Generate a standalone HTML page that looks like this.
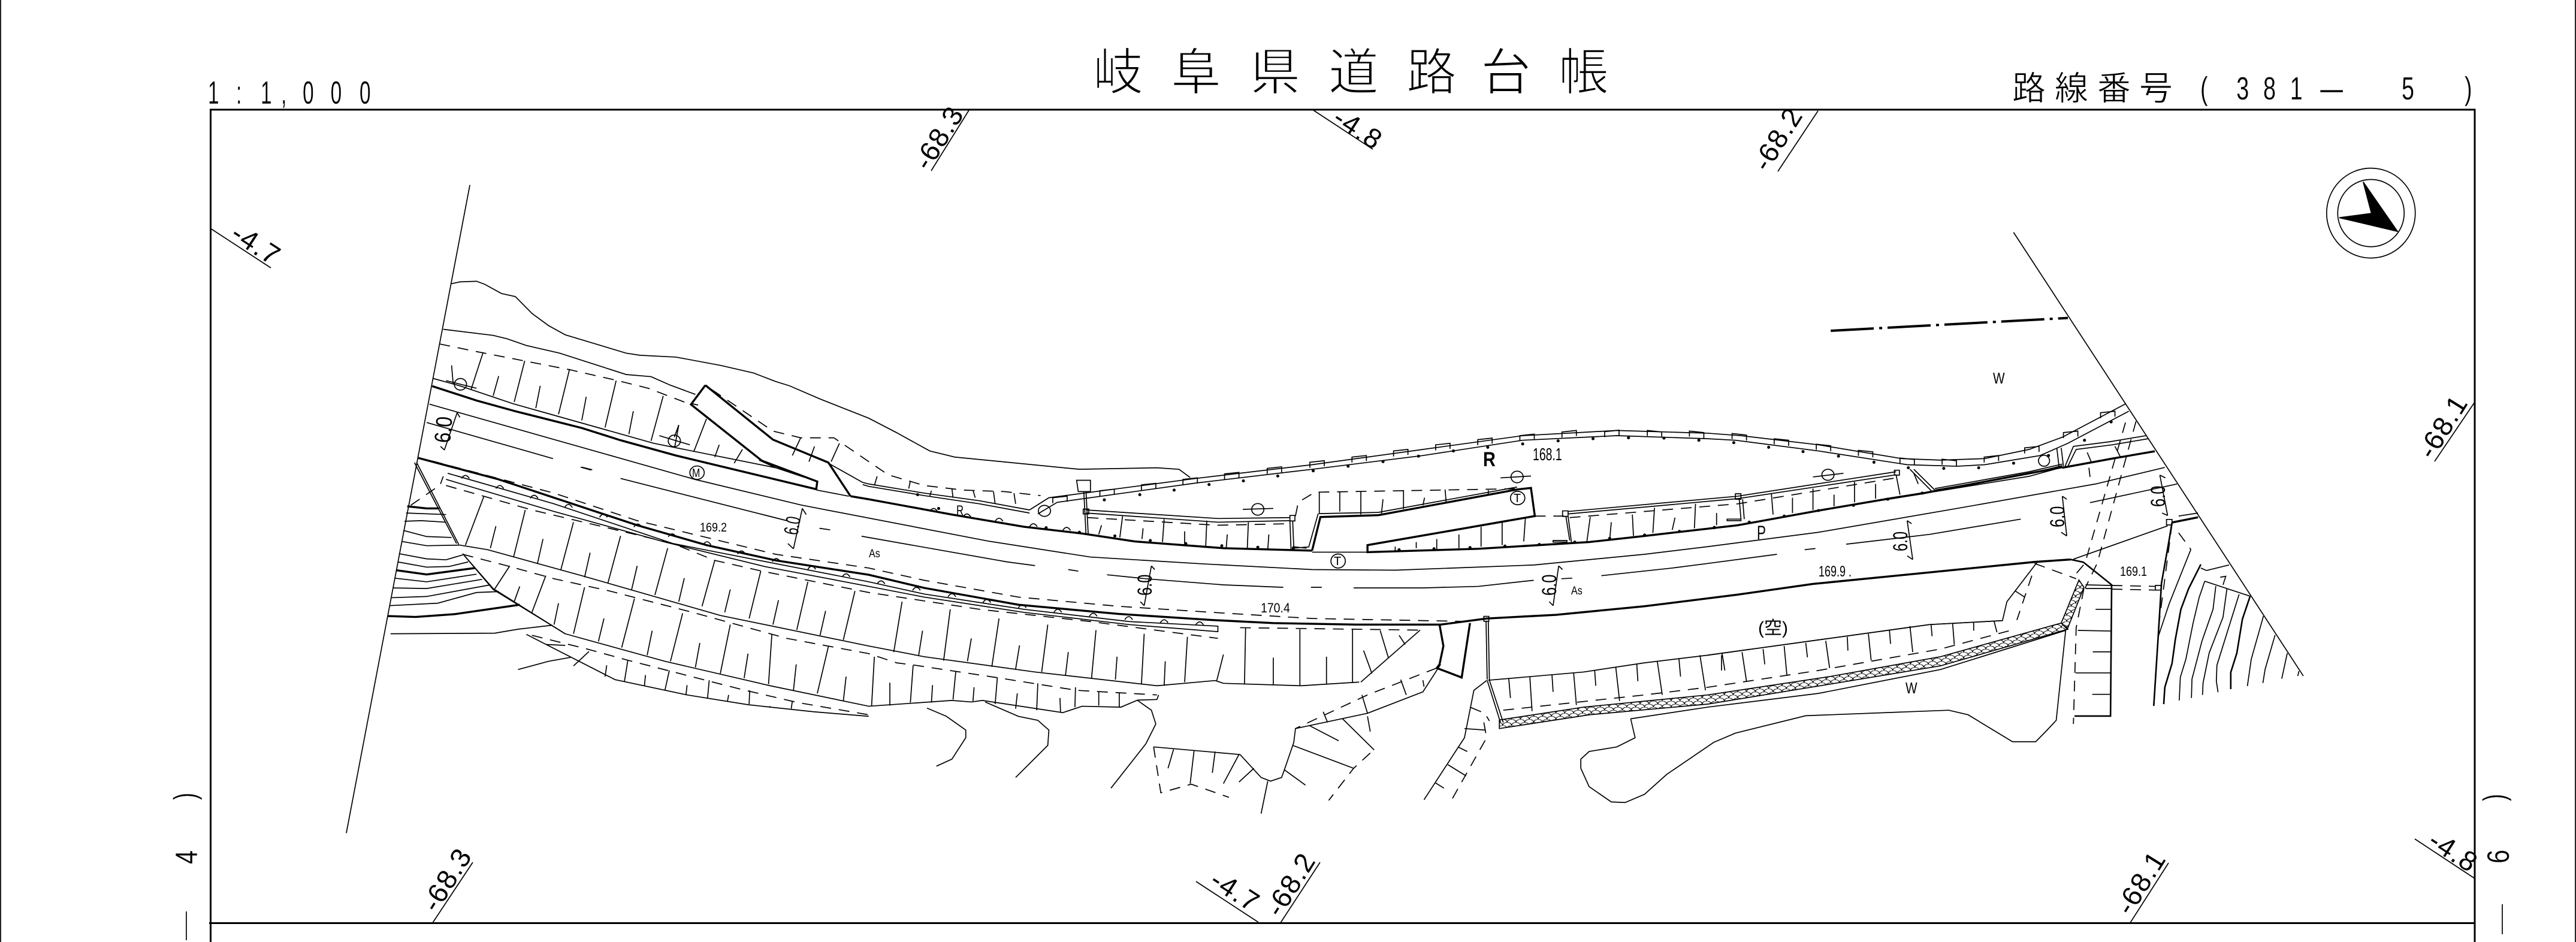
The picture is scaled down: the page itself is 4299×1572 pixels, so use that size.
<!DOCTYPE html>
<html lang="ja"><head><meta charset="utf-8"><title>岐阜県道路台帳</title>
<style>
html,body{margin:0;padding:0;background:#fff}
svg{position:absolute;left:0;top:0;display:block}
g path,g ellipse{fill:none;stroke:#000;stroke-width:1.7;vector-effect:non-scaling-stroke}
g path.k{stroke-width:3.4}
g path.m{stroke-width:2.6}
g path.d{stroke-dasharray:18 13}
g path.o{stroke:#000;stroke-width:5;stroke-linecap:round}
g path.f{fill:#000}
g path.s{fill:url(#sc);stroke-width:1.7}
g path.c{stroke-width:4;stroke-dasharray:72 9 5 9}
text{font-family:"Liberation Sans","Noto Sans CJK JP",sans-serif;fill:#000}
.big{stroke:#fff;stroke-width:2.2}
.mid{stroke:#fff;stroke-width:.8}
.thin{stroke:#fff;stroke-width:.3}
.st{font-size:46px;letter-spacing:2px;text-anchor:middle}
.sm{font-size:25px}
</style></head><body>
<svg xmlns="http://www.w3.org/2000/svg" width="4299" height="1572" viewBox="0 0 4299 1572">
<defs><pattern id="sc" patternUnits="userSpaceOnUse" width="16" height="20">
<path d="M0 10a8 10 0 0 1 16 0M-8 20a8 10 0 0 1 16 0M8 20a8 10 0 0 1 16 0" fill="none" stroke="#000" stroke-width="1.6"/></pattern></defs>

<g>
<path d="M351.5,1572V183H4130V1572M349,1540.5H4130" style="stroke-width:3"/>
<path d="M1,0V1572M4298,0V1572"/>
<path d="M351,381L452,447M1617,184L1554,285M2192,184L2291,249M3034,185L2967,286M4130,671L4063,770M789,1439L722,1540M1996,1471L2100,1539M2203,1439L2137,1540M3619,1440L3555,1540M4030,1400L4130,1466"/>
<path d="M311,1521V1569M4176,1509V1559"/>
</g>

<g transform="scale(.9247,.5102)">
<!-- PANEL A -->
<g>
<path d="M848,605L625,2725"/>
<path d="M815,928 830,922 860,920 875,930 905,960 930,970 960,1025 990,1065 1020,1095 1130,1155 1155,1162 1220,1168 1300,1195 1360,1220 1400,1248 1425,1262 1480,1305 1568,1368 1618,1415 1678,1475 1723,1495 1948,1535 2088,1530 2128,1535 2148,1562"/>
<path d="M800,1077 890,1097 915,1108 950,1130 1010,1155 1130,1225 1175,1232 1210,1260 1255,1290"/>
<path class="d" d="M793,1125 860,1150 1030,1210 1115,1245 1170,1270 1235,1315 1260,1325"/>
<path class="d" d="M1285,1275 1395,1410 1445,1432 1505,1432 1568,1510 1603,1553 1668,1588 1738,1603 1813,1608 1878,1621"/>
<path d="M872,1152 850,1275M947,1180 928,1315M1028,1207 1008,1355M1112,1245 1092,1398M1197,1295 1175,1442M1275,1370 1252,1478M900,1230 890,1295M975,1262 967,1335M1058,1298 1050,1375M1143,1345 1135,1420M1225,1390 1217,1430M1298,1455 1290,1495M1340,1470 1325,1515M1370,1505 1400,1530M1445,1432 1430,1490M1470,1460 1460,1510M1515,1450 1500,1510"/>
<path d="M782,1238 830,1262 925,1320 1180,1450 1400,1530 1450,1560M1495,1515 1557,1578"/>
<path class="k" d="M780,1263 860,1310 930,1345 1050,1400 1120,1440 1220,1490 1475,1601"/>
<path class="k" d="M1273,1260 1247,1323 1375,1507 1475,1575 1473,1601M1273,1260 1395,1438 1495,1513 1535,1623"/>
<path d="M775,1322 1254,1568 1446,1652 1784,1770M770,1382 998,1500"/>
<path class="d" d="M1048,1528 1072,1540"/>
<ellipse cx="831" cy="1257" rx="11" ry="19"/><path d="M805,1245 860,1270M815,1195 818,1257"/>
<ellipse cx="1217" cy="1442" rx="11" ry="19"/><path d="M1190,1425 1245,1455M1225,1390 1218,1460"/>
<path d="M825,1350 802,1472M825,1350 830,1365M802,1472 795,1460"/>
</g>

<!-- PANEL B -->
<g transform="translate(1568,0)">
<defs><path id="r" d="M-13,8V-10L13,-15V3"/><path id="r2" d="M-13,3V-15L13,-10V8"/></defs>
<path d="M590,1565 800,1520 1000,1470 1180,1425 1350,1408 1514,1417 1574,1425 1714,1455 1864,1500 1934,1505 2014,1500 2094,1470 2154,1430 2269,1320"/>
<path d="M590,1580 800,1535 1000,1490 1180,1440 1350,1425 1514,1435 1564,1440 1714,1475 1874,1520 1964,1525 2014,1520 2114,1490 2164,1450 2274,1345"/>
<use href="#r" x="655" y="1560"/><use href="#r" x="732" y="1542"/><use href="#r" x="809" y="1522"/><use href="#r" x="885" y="1505"/><use href="#r" x="960" y="1485"/><use href="#r" x="1036" y="1465"/><use href="#r" x="1112" y="1448"/><use href="#r" x="1188" y="1435"/><use href="#r" x="1264" y="1423"/><use href="#r" x="1341" y="1422"/><use href="#r2" x="1418" y="1423"/><use href="#r2" x="1494" y="1425"/>
<path class="o" d="M738,1557h.1M802,1540h.1M865,1525h.1M928,1510h.1M992,1492h.1M1055,1475h.1M1117,1463h.1M1180,1452h.1M1244,1442h.1M1307,1435h.1M1371,1432h.1M1435,1433h.1M1498,1440h.1"/>
</g>

<!-- PANEL C -->
<g transform="translate(3082,0)">
<use href="#r2" x="57" y="1433"/><use href="#r2" x="133" y="1450"/><use href="#r2" x="209" y="1468"/><use href="#r2" x="285" y="1488"/><use href="#r2" x="360" y="1513"/><use href="#r2" x="436" y="1517"/><use href="#r" x="512" y="1505"/><use href="#r" x="585" y="1475"/><use href="#r" x="655" y="1425"/><use href="#r" x="722" y="1360"/>
<path class="o" d="M47,1448h.1M110,1463h.1M172,1477h.1M236,1492h.1M300,1512h.1M362,1530h.1M426,1532h.1M489,1530h.1M552,1515h.1M615,1490h.1M680,1440h.1M728,1380h.1"/>
<path d="M552,760L1075,2211"/>
<path class="c" d="M222,1082 650,1040"/>
<ellipse cx="1197" cy="697" rx="80" ry="147"/><ellipse cx="1197" cy="697" rx="60" ry="110"/>
<path class="f" d="M1183,595 1245,757 1140,712 1198,698Z"/>
<path d="M630,1465 634,1525M638,1465 642,1525"/>
<ellipse cx="607" cy="1507" rx="10" ry="18"/>
<path d="M645,1525 660,1460 725,1445 791,1425M650,1525 665,1470 730,1455 795,1435"/>
<path class="k" d="M640,1530 730,1500 807,1476"/>
<path d="M685,1480 692,1510M735,1460 745,1495M690,1560 688,1530"/>
<path class="d" d="M754,1382 681,1842 660,1887M773,1378 703,1842 681,1924"/>
</g>

<!-- PANEL D -->
<g transform="translate(0,1513)">
<path d="M752,0 828,268M748,0 824,265M800,45 795,70"/>
<path class="d" d="M785,85 737,145"/>
<path class="k" d="M735,143 770,150 793,150"/>
<path d="M733,165 805,170M730,192 760,190 805,195M728,222 770,242 815,245M725,258 770,272 830,270M720,298 770,315 805,318 835,302M718,325 770,342 810,340 845,325M712,378 770,390 860,365M710,410 770,412 870,382M707,442 770,438 885,400M703,468 790,460 860,425 900,422M705,560 893,558 935,545 997,532M835,298 890,412 1020,560"/>
<path class="k" d="M715,352 770,366 857,345M700,502 750,505 820,496 938,465"/>
<path class="k" d="M755,-15 900,55 1025,130 1150,205 1275,270 1400,320 1568,367 1668,410 1838,465 2018,495 2188,515 2298,525 2448,530 2600,530 2683,510 2808,498 2968,470 3136,432 3272,397 3672,325 3737,317"/>
<path class="d" d="M780,-5 1000,100 1150,190 1400,300 1568,345 1668,385 1838,440 2018,470 2188,490 2368,510 2658,520"/>
<path d="M833,52q7,-20 14,0M895,85q7,-20 14,0M957,117q7,-20 14,0M1019,147q7,-20 14,0M1082,179q7,-20 14,0M1144,211q7,-20 14,0M1206,243q7,-20 14,0M1269,269q7,-20 14,0M1331,299q7,-20 14,0M1394,324q7,-20 14,0M1458,349q7,-20 14,0M1520,374q7,-20 14,0M1583,397q7,-20 14,0M1647,418q7,-20 14,0M1711,439q7,-20 14,0M1774,458q7,-20 14,0M1838,475q7,-20 14,0M1902,490q7,-20 14,0M1966,503q7,-20 14,0M2030,514q7,-20 14,0M2094,524q7,-20 14,0M2158,531q7,-20 14,0"/>
<path d="M808,35 1000,135 1215,265 1568,390 1668,430 1848,480 2038,520 2198,535 2198,553 2038,530 1848,490 1668,440 1568,405 1380,340 1200,260 1000,160 805,55"/>
<path class="d" d="M805,75 960,155 1100,215 1215,265 1290,320 1375,355 1568,425 1768,480 1968,520 2198,575"/>
<path d="M830,270 880,285 1050,370 1300,500 1568,600 1668,635 1868,685 2088,730 2193,713 2208,722 2348,730 2453,718"/>
<path d="M873,112 840,270M948,155 927,308M1035,195 1012,352M1120,240 1097,395M1205,280 1182,433M1290,320 1267,470M1373,355 1352,510M1458,390 1438,547M1543,420 1522,580M895,208 885,280M980,250 970,330M1065,295 1055,375M1150,338 1140,415M1235,378 1225,455M1318,415 1308,490M1405,450 1395,530M1490,485 1480,565"/>
<path class="d" d="M835,300 920,340 1000,380 1100,420 1250,490 1420,575 1568,625 1618,655 1648,662 1798,703 1943,745 2088,760"/>
<path d="M835,298 890,415 1020,560 1200,650 1390,730 1568,797 1718,778 1753,783 1773,778 1918,818 1953,797 2023,800 2053,777 2088,775 2091,760"/>
<path d="M920,338 893,413M985,370 960,490M1055,408 1035,560M1145,445 1122,605M1232,493 1210,650M1318,530 1300,690M1393,562 1387,725M1495,602 1475,755M938,405 928,455M1008,460 1000,530M1090,510 1080,585M1177,550 1168,630M1263,590 1255,670M1350,625 1343,705M1437,660 1432,745M1527,700 1522,780"/>
<path d="M950,562 1110,710 1240,760 1350,792 1468,815 1568,830"/>
<path class="d" d="M960,565 1060,610 1130,645 1205,680 1280,715 1345,745 1440,785 1568,825"/>
<path d="M1063,618 1035,665M1133,648 1127,715M1208,680 1200,745M1280,712 1277,770M1353,745 1352,790M1430,780 1428,805M1095,663 1092,700M1165,695 1163,730M1240,728 1238,760M1315,760 1313,780M1390,797 1388,800M1020,598 985,595M935,677 990,650 1030,637"/>
<ellipse cx="1258" cy="33" rx="13" ry="22"/>
<path d="M1120,52 1420,190M1474,90 1532,110"/>
<path class="d" d="M1479,215 1506,222M1050,15 1072,25"/>
<path d="M1448,150 1432,282M1448,150 1455,170M1432,282 1422,265"/>
</g>

<!-- PANEL E -->
<g transform="translate(1568,1513)">
<path d="M-11,65 0,70 100,100 200,125 290,155M-11,72 0,78 100,108 200,135 290,165M290,155 325,115 590,52M305,168 340,130 590,67"/>
<ellipse cx="317" cy="158" rx="11" ry="18"/>
<use href="#r" x="345" y="125"/><use href="#r" x="430" y="102"/><use href="#r" x="505" y="83"/><use href="#r" x="580" y="65"/>
<path class="o" d="M425,122h.1M489,105h.1M551,90h.1M614,72h.1M676,60h.1"/>
<path d="M15,45 10,75M75,60 72,85M113,92 110,110M150,85 152,115M188,90 192,115M225,95 228,135M262,100 265,135"/>
<path d="M375,58H400V95H378ZM388,95 392,235M392,95 396,235"/>
<path d="M387,152h10v16h-10Z"/>
<path class="k" d="M-33,110 0,120 60,140 150,170 280,210 385,232 480,258 640,280 800,288"/>
<path d="M110,160q7,-20 14,0M170,178q7,-20 14,0M228,192q7,-20 14,0M290,210q7,-20 14,0M350,222q7,-20 14,0"/>
<path class="o" d="M444,240h.1M508,255h.1M572,265h.1M637,272h.1M702,277h.1M766,280h.1M957,285h.1M1020,282h.1M1085,278h.1M1148,273h.1M1210,268h.1M1274,260h.1M1337,248h.1M1400,237h.1M1463,225h.1M1526,213h.1M88,105h.1M126,150h.1M380,228h.1M320,213h.1"/>
<path d="M216,257 400,309 600,331 800,350 950,352 1200,335 1400,300 1514,275 1714,228 1964,150 2214,70 2339,16"/>
<path d="M-13,241 250,325 300,337M430,367 500,380 640,400 748,408M875,410 1000,410 1100,405 1200,385M1322,370 1450,345 1514,330 1639,300M1764,267 1914,235 2079,185M2204,131 2361,70"/>
<path class="d" d="M360,350 378,355M798,408 825,408M1250,380 1270,378M1689,285 1714,280"/>
<ellipse cx="847" cy="322" rx="13" ry="23"/>
<path d="M510,338 497,468M1245,338 1235,468M510,338 516,350M497,468 490,455M1245,338 1252,350M1235,468 1228,455"/>
<path d="M392,155 630,183 760,180M392,165 630,195 760,190"/>
<path class="d" d="M395,180 630,205 760,200"/>
<path d="M420,205 415,235M458,175 453,245M495,215 493,250M533,185 530,260M570,225 570,270M610,190 608,275M647,235 645,280M685,195 683,285M722,235 720,285"/>
<path d="M760,173h9v18h-9ZM760,192 762,285M765,192 767,280M765,275 790,280M811,167 794,276 764,280M812,167 919,163 1170,80"/>
<ellipse cx="702" cy="153" rx="11" ry="19"/><path d="M675,153 730,150"/>
<ellipse cx="1170" cy="47" rx="11" ry="19"/><path d="M1140,50 1195,44"/>
<path class="k" d="M800,288 815,178 920,172 1170,88 1195,83 1202,175 900,270 900,293 1100,282 1300,260 1400,240 1568,205 1614,190 1714,157 1834,120 1904,100"/>
<path class="d" d="M770,175 775,130 805,97 1190,85"/>
<path d="M813,98 813,165M850,95 850,160M888,93 888,170M928,120 925,170M965,90 965,152M1003,115 1000,140M1040,88 1042,130M1080,115 1078,120M1118,90 1118,105M800,293H900"/>
<ellipse cx="1171" cy="116" rx="13" ry="22"/>
<path class="d" d="M1202,175 1258,175"/>
<path d="M1185,180 1182,258M1143,195 1143,270M1105,210 1105,275M1065,235 1065,280M1025,250 1025,285M988,260 988,280M950,275 950,290"/>
<path d="M1252,158h10v18h-10ZM1258,175 1265,255M1262,175 1268,260M1235,255H1260V260H1235Z"/>
<path d="M1262,160 1568,110 1854,30M1262,168 1568,118 1854,40"/>
<path class="d" d="M1265,180 1568,135 1854,50"/>
<path d="M1302,178 1296,258M1340,195 1337,255M1378,170 1380,240M1418,148 1415,230M1455,180 1450,220M1492,135 1490,215M1530,165 1530,205"/>
<path class="d" d="M670,540 995,548"/>
<path d="M60,455 45,620M147,480 135,648M235,510 222,668M323,530 312,685M410,548 402,705M497,560 492,725M575,570 570,718M680,540 678,725M778,545 778,728M873,547 873,720M923,550 938,640M957,565 968,595M995,548 888,718M97,550 90,630M185,575 178,650M272,598 265,675M360,620 355,695M448,635 445,710M535,650 533,730M640,628 628,713M730,638 730,728M826,635 826,725M893,615 908,690"/>
<path d="M10,635 5,797M80,663 75,785M157,683 152,775M232,703 228,790M305,722 303,810M373,735 372,800M38,720 38,795M115,728 113,785M190,735 188,780M268,755 265,805M345,770 346,815M415,750 415,795M452,752 452,800"/>
<path d="M105,803 140,830 175,875 175,900 150,970 122,993M210,783 270,830 305,843 325,875 323,925 265,1030M485,778 510,810 518,855 500,920 437,1065"/>
<path class="k" d="M1030,530 1037,600 1030,660 1025,672 1070,703 1085,525"/>
<path d="M1032,660 1000,750 900,820 770,870 767,915 750,1005 745,1030 725,1042 708,1030 670,955 514,930"/>
<path class="d" d="M514,930 527,1080 582,1052 650,1095M1025,672 900,760 770,870M905,950 875,1000 830,1105M1110,850 1115,900 1052,1103"/>
<path d="M960,710 970,760M1000,712 1002,733M890,760 900,820M820,815 828,850M795,860 848,910M855,838 912,940M900,830 905,880M765,925 875,1000M750,1005 788,1055M720,1042 708,1148M668,955 640,1050M695,1000 668,1045M625,945 620,1015M587,942 580,1050M550,938 540,1000"/>
<path d="M1115,713 1092,745 1075,900 1002,1103M1085,800 1105,815M1115,830 1120,845M1075,870 1113,875M1063,930 1080,945M1045,988 1078,1025M1023,1048 1038,1065"/>
<path d="M1110,503h9v16h-9ZM1114,520 1116,710M1118,520 1120,710M1116,712 1140,850M1120,712 1145,850M1118,712 1290,685 1400,655 1514,630 1734,575 1914,530 2046,517"/>
<path class="d" d="M1145,810 1400,760 1514,735 1714,680 1934,610 2069,545"/>
<path d="M1155,707 1158,770M1193,700 1197,813M1233,695 1235,750M1272,687 1277,793M1310,680 1312,730M1348,668 1355,780M1386,660 1388,715M1423,650 1432,760M1462,640 1465,700M1500,630 1510,745M1540,625 1545,680"/>
<path class="s" d="M1138,842 1290,800 1514,760 1734,700 1934,635 2152,525 2164,545 1934,665 1734,725 1514,790 1300,825 1138,870Z"/>
<path d="M1375,838 1514,800 1714,755 1934,677 2160,549"/>
<path d="M1375,838 1383,900 1350,930 1300,945 1285,970 1285,1000 1300,1060 1340,1110 1365,1112 1400,1085 1440,1020 1525,915 1564,885 1691,828 1949,810 1984,825 2064,913 2106,913 2125,878 2143,843 2160,549"/>
</g>

<!-- PANEL F -->
<g transform="translate(3082,1513)">
<path d="M337,25h9v16h-9ZM50,102h10v18h-10Z"/>
<path d="M57,120 60,185M63,120 66,185M115,103 118,170M153,115 153,165M190,85 190,155M228,105 228,143M265,63 265,130M303,70 303,118M340,40 347,105M372,35 380,70M35,185H60V190H35Z"/>
<path class="k" d="M320,120 390,100 640,15"/>
<path class="o" d="M12,212h.1M75,195h.1M138,175h.1M200,157h.1M263,140h.1M325,120h.1M387,100h.1"/>
<ellipse cx="217" cy="40" rx="11" ry="18"/><path d="M190,47 245,35"/>
<path d="M365,22 405,95M372,22 410,90M410,85 580,30 640,5M410,90 580,37 640,10M410,95 580,45 640,15"/>
<path d="M360,190 370,317M640,110 648,240M816,41 830,173M360,190 368,200M370,317 360,305M640,110 648,120M648,240 638,228M816,41 826,50M830,173 820,165"/>
<path class="m" d="M655,317 678,326 703,362 729,400 727,829 662,829"/>
<path d="M660,316 830,207"/>
<path d="M595,325 540,455 532,517 400,530 220,575 0,630"/>
<path class="d" d="M590,330 665,380M585,370 558,515"/>
<path d="M25,630 25,680M62,620 70,715M100,610 103,660M138,600 143,697M177,590 180,637M213,583 220,672M252,570 253,615M290,560 295,647M328,548 330,593M365,535 370,620M403,528 405,568M442,525 445,595M480,522 480,550M517,520 522,555M555,420 572,440"/>
<path class="s" d="M670,384 638,525 649,545 679,408Z"/>
<path d="M682,400 729,402M682,412 729,412"/>
<path class="d" d="M729,402 808,405M729,414 808,417M679,412 665,540 660,855"/>
<path d="M808,402h10v15h-10Z"/>
<path d="M700,480 728,480M668,549 728,551M695,619 727,619M664,688 727,688M694,758 727,758"/>
<path class="m" d="M838,196 833,251 819,394 813,570 805,796"/>
<path class="k" d="M838,196 885,179"/>
<path d="M828,186h10v18h-10Z"/>
<path class="d" d="M838,200 812,560 M850,230 872,284"/>
<path d="M813,570 833,461 872,284M850,175 885,165"/>
<path class="m" d="M890,333 868,412 854,480 844,578 838,657 825,735 823,790"/>
<path d="M897,388 887,441 876,525 863,643 853,702 851,778"/>
<path d="M917,404 912,480 892,584 874,708 873,770"/>
<path d="M937,414 930,506 905,623 894,721 893,760"/>
<path d="M959,431 919,663 918,715 921,751"/>
<path class="m" d="M979,437 965,512 955,623 944,686 944,741"/>
<path d="M1003,502 981,643 974,731M1024,564 1006,676 1002,721M1046,623 1036,707M1067,682 1065,698"/>
<path d="M897,388 979,437M900,353 941,335M890,345 900,353M925,375 935,372 930,400"/>
</g>
</g>

<!-- Text -->
<text class="big" font-size="84" x="1824 1954 2086 2217 2347 2471 2601" y="150">岐阜県道路台帳</text>
<text class="mid" font-size="56" x="3358 3429 3500 3570" y="167">路線番号</text>
<g transform="translate(347,173) scale(.62,1)"><text class="thin" font-size="54" x="0 76 142 197 255 330 408" y="0">1:1,000</text></g>
<g transform="translate(3672,166) scale(.7,1)"><text class="thin" font-size="54" x="0 86 150 214 286 480 630" y="0">(381—5)</text></g>
<text class="thin" font-size="52" transform="translate(326,1335) rotate(-90) scale(.7,1)">)</text>
<text class="thin" font-size="52" transform="translate(329,1442) rotate(-90) scale(.8,1)">4</text>
<text class="thin" font-size="52" transform="translate(4180,1337) rotate(-90) scale(.7,1)">)</text>
<text class="thin" font-size="52" transform="translate(4187,1441) rotate(-90) scale(.8,1)">6</text>

<text class="st" transform="translate(419,421) rotate(33)">-4.7</text>
<text class="st" transform="translate(1580,238) rotate(-58)">-68.3</text>
<text class="st" transform="translate(2258,228) rotate(33)">-4.8</text>
<text class="st" transform="translate(2980,240) rotate(-58)">-68.2</text>
<text class="st" transform="translate(4090,720) rotate(-58)">-68.1</text>
<text class="st" transform="translate(759,1476) rotate(-58)">-68.3</text>
<text class="st" transform="translate(2053,1500) rotate(33)">-4.7</text>
<text class="st" transform="translate(2167,1484) rotate(-58)">-68.2</text>
<text class="st" transform="translate(3586,1481) rotate(-58)">-68.1</text>
<text class="st" transform="translate(4086,1434) rotate(33)">-4.8</text>

<g>
<text font-size="38" transform="translate(751,740) rotate(-85) scale(.83,1)">6.0</text>
<text font-size="34" transform="translate(1331,894) rotate(-80) scale(.64,1)">6.0</text>
<text font-size="34" transform="translate(1922,994) rotate(-90) scale(.75,1)">6.0</text>
<text font-size="34" transform="translate(2597,994) rotate(-90) scale(.75,1)">6.0</text>
<text font-size="34" transform="translate(3183,920) rotate(-90) scale(.7,1)">6.0</text>
<text font-size="34" transform="translate(3445,880) rotate(-90) scale(.75,1)">6.0</text>
<text font-size="34" transform="translate(3613,846) rotate(-90) scale(.75,1)">6.0</text>
</g>
<g>
<text class="sm" transform="translate(1168,887) scale(.72,.85)">169.2</text>
<text class="sm" transform="translate(2104,1022) scale(.78,.9)">170.4</text>
<text class="sm" transform="translate(2558,768) scale(.78,1.15)">168.1</text>
<text class="sm" transform="translate(3035,962) scale(.72,1)">169.9 .</text>
<text class="sm" transform="translate(3538,961) scale(.72,.9)">169.1</text>
<text font-size="19" transform="translate(1450,930) scale(.85,1)">As</text>
<text font-size="19" transform="translate(2622,992) scale(.85,1)">As</text>
<text font-size="26" transform="translate(3180,1157) scale(.8,1)">W</text>
<text font-size="26" transform="translate(3326,640) scale(.8,1)">W</text>
<text font-size="32" transform="translate(2932,900) scale(.7,1)">P</text>
<text font-size="30" transform="translate(2934,1058)">(空)</text>
<text font-size="34" font-weight="bold" transform="translate(2475,778) scale(.85,1)">R</text>
<text font-size="20" transform="translate(1155,796) scale(.8,1)">M</text>
<text font-size="20" transform="translate(2226,943)">T</text>
<text font-size="20" transform="translate(2526,838)">T</text>
<text font-size="24" transform="translate(1596,860) scale(.7,1)">R</text>
</g>
</svg>
</body></html>
